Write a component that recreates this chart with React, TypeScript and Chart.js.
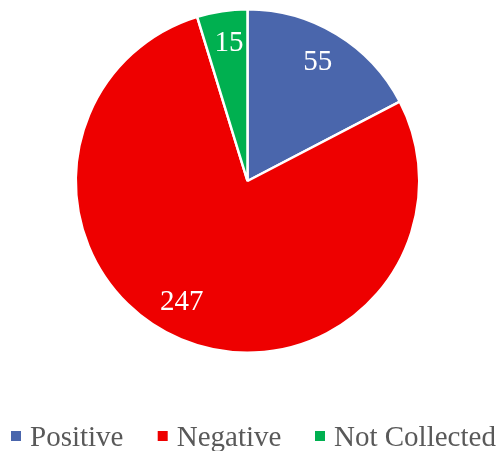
import React, { useEffect, useRef } from "react";
import { Chart, registerables } from "chart.js";

Chart.register(...registerables);

const categories = ["Positive", "Negative", "Not Collected"];
const values = [55, 247, 15];
const colors = ["#4A66AC", "#EE0000", "#00B050"];

const FONT = '"Liberation Serif", "Times New Roman", serif';
// small per-label nudges (px) to mimic Excel's best-fit placement
const LABEL_NUDGE: [number, number][] = [[-2, 0], [-12, -7], [2, 0]];

const labelPlugin = {
  id: "sliceLabels",
  afterDatasetsDraw(chart: any) {
    const ctx = chart.ctx;
    const meta = chart.getDatasetMeta(0);
    ctx.save();
    ctx.font = `29px ${FONT}`;
    ctx.fillStyle = "#FFFFFF";
    ctx.textAlign = "center";
    ctx.textBaseline = "middle";
    meta.data.forEach((arc: any, i: number) => {
      const { x, y, startAngle, endAngle, outerRadius } = arc.getProps(
        ["x", "y", "startAngle", "endAngle", "outerRadius"],
        true
      );
      const mid = (startAngle + endAngle) / 2;
      const r = outerRadius * 0.81;
      ctx.fillText(
        String(values[i]),
        x + Math.cos(mid) * r + LABEL_NUDGE[i][0],
        y + Math.sin(mid) * r + LABEL_NUDGE[i][1]
      );
    });
    ctx.restore();
  },
};

const legendPlugin = {
  id: "customLegend",
  afterDraw(chart: any) {
    const ctx = chart.ctx;
    const markerX = [11, 157.7, 315];
    ctx.save();
    ctx.font = `29px ${FONT}`;
    ctx.textAlign = "left";
    ctx.textBaseline = "alphabetic";
    categories.forEach((c, i) => {
      ctx.fillStyle = colors[i];
      ctx.fillRect(markerX[i], 431, 10, 10);
      ctx.fillStyle = "#595959";
      ctx.fillText(c, markerX[i] + 19, 446);
    });
    ctx.restore();
  },
};

export default function App() {
  const ref = useRef<HTMLCanvasElement>(null);
  useEffect(() => {
    if (!ref.current) return;
    const chart = new Chart(ref.current, {
      type: "pie",
      data: {
        labels: categories,
        datasets: [
          {
            data: values,
            backgroundColor: colors,
            borderColor: "#FFFFFF",
            borderWidth: 2.5,
          },
        ],
      },
      options: {
        responsive: false,
        animation: false,
        layout: { padding: { left: 74.5, right: 80.5, top: 8, bottom: 97 } },
        plugins: {
          legend: { display: false },
          tooltip: { enabled: false },
        },
      },
      plugins: [labelPlugin, legendPlugin],
    });
    return () => chart.destroy();
  }, []);
  return (
    <div style={{ position: "absolute", left: 0, top: 0, width: 501, height: 451, background: "#FFFFFF" }}>
      <canvas ref={ref} width={501} height={451} style={{ width: 501, height: 451 }} />
    </div>
  );
}
